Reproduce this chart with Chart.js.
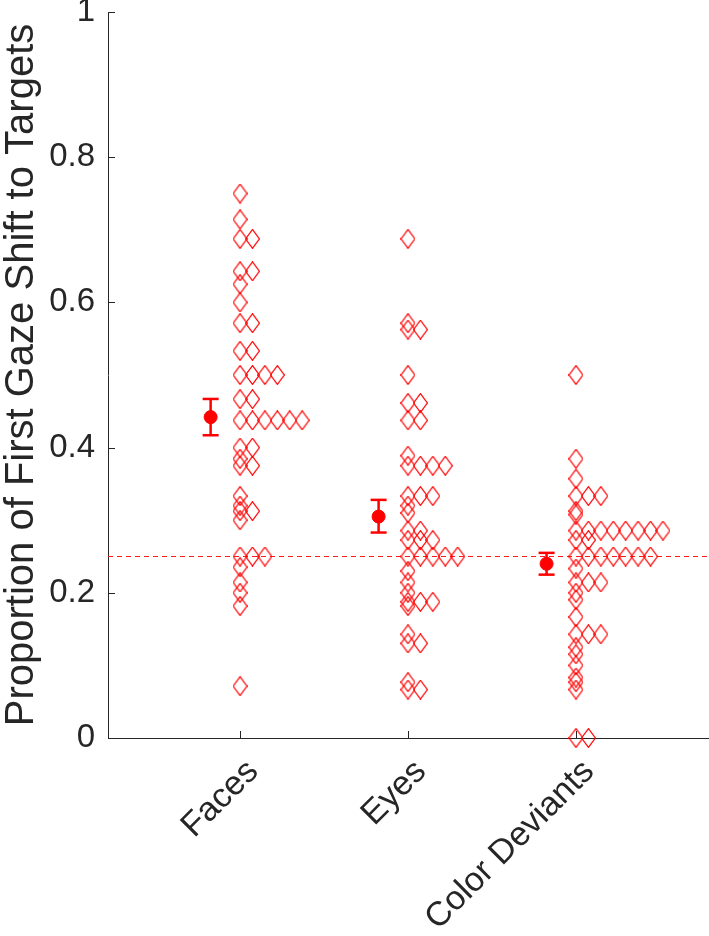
<!DOCTYPE html>
<html>
<head>
<meta charset="utf-8">
<script src="https://cdn.jsdelivr.net/npm/chart.js@4.4.1/dist/chart.umd.min.js"></script>
<style>
    html, body { margin: 0; padding: 0; background: #fff; }
    canvas { display: block; }
</style>
</head>
<body>
<canvas id="gazeChart" width="709" height="936"></canvas>
<script>
        // Data
        const categories = ['Faces', 'Eyes', 'Color Deviants'];
        const facesValues = [
            0.75, 0.7143, 0.6875, 0.6875, 0.6429, 0.6429, 0.625, 0.6, 0.5714, 0.5714,
            0.5333, 0.5333, 0.5, 0.5, 0.5, 0.5, 0.4667, 0.4667,
            0.4375, 0.4375, 0.4375, 0.4375, 0.4375, 0.4375, 0.4, 0.4, 0.3846, 0.375, 0.375,
            0.3333, 0.32, 0.3125, 0.3125, 0.30, 0.25, 0.25, 0.25,
            0.2353, 0.2143, 0.2, 0.1818, 0.0714
        ];
        const eyesValues = [
            0.6875, 0.5714, 0.5625, 0.5625, 0.5, 0.4615, 0.4615, 0.4375, 0.4375,
            0.3889, 0.375, 0.375, 0.375, 0.375, 0.3333, 0.3333, 0.3333, 0.32, 0.31,
            0.2857, 0.2857, 0.2727, 0.2727, 0.2727, 0.25, 0.25, 0.25, 0.25, 0.25,
            0.23, 0.2143, 0.2, 0.1875, 0.1875, 0.1875, 0.1818,
            0.1429, 0.1304, 0.1304, 0.0769, 0.0667, 0.0667
        ];
        const colorDeviantValues = [
            0.5, 0.3846, 0.3571, 0.3333, 0.3333, 0.3333, 0.3125, 0.3077,
            0.2857, 0.2857, 0.2857, 0.2857, 0.2857, 0.2857, 0.2857, 0.2857,
            0.2727, 0.2727, 0.25, 0.25, 0.25, 0.25, 0.25, 0.25, 0.25,
            0.2333, 0.2143, 0.2143, 0.2143, 0.2, 0.1905, 0.1667,
            0.1429, 0.1429, 0.1429, 0.125, 0.1154, 0.1, 0.0833, 0.0769, 0.0667, 0, 0
        ];
        const groupMeans = [0.442, 0.305, 0.240];
        const groupLower = [0.417, 0.283, 0.225];
        const groupUpper = [0.467, 0.328, 0.255];
        const chanceLevel = 0.25;
        const yTicks = [0, 0.2, 0.4, 0.6, 0.8, 1];

        const X_MIN = 0.214;
        const X_MAX = 3.792;
        const SWARM_STEP = 0.074;    // horizontal step between stacked diamonds
        const ERR_OFFSET = -0.175;   // mean marker sits left of the swarm
        const RED = '#ff0000';
        const AXIS = '#262626';
        const FONT = '"Liberation Sans", Arial, Helvetica, sans-serif';

        // Stack identical values side by side
        function swarm(values, center) {
            const seen = {};
            return values.map(v => {
                const col = seen[v] || 0;
                seen[v] = col + 1;
                return { x: center + col * SWARM_STEP, y: v };
            });
        }

        // Tall open diamond marker
        function makeDiamond(w, h) {
            const c = document.createElement('canvas');
            c.width = w;
            c.height = h;
            const g = c.getContext('2d');
            g.strokeStyle = RED;
            g.lineWidth = 1.2;
            g.beginPath();
            g.moveTo(w / 2, 0.6);
            g.lineTo(w - 0.6, h / 2);
            g.lineTo(w / 2, h - 0.6);
            g.lineTo(0.6, h / 2);
            g.closePath();
            g.stroke();
            return c;
        }
        const diamond = makeDiamond(15, 20);

        const swarmSets = [facesValues, eyesValues, colorDeviantValues].map((vals, i) => ({
            label: categories[i],
            data: swarm(vals, i + 1),
            pointStyle: diamond,
            pointRadius: 8,
            clip: false
        }));

        const errorSets = categories.map((c, i) => ({
            label: c + ' SEM',
            data: [
                { x: i + 1 + ERR_OFFSET, y: groupLower[i] },
                { x: i + 1 + ERR_OFFSET, y: groupUpper[i] }
            ],
            showLine: true,
            borderColor: RED,
            borderWidth: 2.5,
            pointStyle: 'line',
            pointRadius: 8,
            pointBorderWidth: 2.5,
            pointBorderColor: RED,
            clip: false
        }));

        const meanSet = {
            label: 'Mean',
            data: groupMeans.map((m, i) => ({ x: i + 1 + ERR_OFFSET, y: m })),
            pointStyle: 'circle',
            pointRadius: 6.5,
            backgroundColor: RED,
            borderColor: RED,
            borderWidth: 1,
            clip: false
        };

        const chanceSet = {
            label: 'Chance',
            data: [{ x: X_MIN, y: chanceLevel }, { x: X_MAX, y: chanceLevel }],
            showLine: true,
            borderColor: '#ff1a1a',
            borderWidth: 1.2,
            borderDash: [5, 4],
            pointRadius: 0,
            clip: false
        };

        // Ticks drawn inside the axes
        const inwardTicks = {
            id: 'inwardTicks',
            beforeDatasetsDraw(chart) {
                const { ctx, chartArea, scales } = chart;
                ctx.save();
                ctx.strokeStyle = AXIS;
                ctx.lineWidth = 1;
                ctx.beginPath();
                scales.x.ticks.forEach(t => {
                    const px = Math.round(scales.x.getPixelForValue(t.value)) + 0.5;
                    ctx.moveTo(px, chartArea.bottom);
                    ctx.lineTo(px, chartArea.bottom - 7);
                });
                scales.y.ticks.forEach(t => {
                    const py = Math.round(scales.y.getPixelForValue(t.value)) + 0.5;
                    ctx.moveTo(chartArea.left, py);
                    ctx.lineTo(chartArea.left + 7, py);
                });
                ctx.stroke();
                ctx.restore();
            }
        };

        const ctx = document.getElementById('gazeChart').getContext('2d');
        new Chart(ctx, {
            type: 'scatter',
            data: {
                datasets: [meanSet, ...errorSets, ...swarmSets, chanceSet]
            },
            options: {
                responsive: false,
                animation: false,
                layout: {
                    autoPadding: false,
                    padding: { top: 12, right: 0, bottom: 0, left: 0 }
                },
                plugins: {
                    legend: { display: false },
                    tooltip: { enabled: false }
                },
                scales: {
                    x: {
                        type: 'linear',
                        min: X_MIN,
                        max: X_MAX,
                        afterBuildTicks: s => { s.ticks = categories.map((c, i) => ({ value: i + 1 })); },
                        afterFit: s => {
                            s.height = 198;
                            s.paddingLeft = 0;
                            s.paddingRight = 0;
                        },
                        grid: { display: false, drawTicks: false },
                        border: { display: true, color: AXIS, width: 1 },
                        ticks: {
                            autoSkip: false,
                            minRotation: 45,
                            maxRotation: 45,
                            padding: 14,
                            labelOffset: 13,
                            color: AXIS,
                            font: { family: FONT, size: 34 },
                            callback: v => categories[v - 1]
                        }
                    },
                    y: {
                        min: 0,
                        max: 1,
                        afterBuildTicks: s => { s.ticks = yTicks.map(v => ({ value: v })); },
                        afterFit: s => {
                            s.width = 108;
                            s.paddingTop = 0;
                            s.paddingBottom = 0;
                        },
                        grid: { display: false, drawTicks: false },
                        border: { display: true, color: AXIS, width: 1 },
                        ticks: {
                            padding: 13,
                            color: AXIS,
                            font: { family: FONT, size: 33 },
                            callback: v => String(v)
                        },
                        title: {
                            display: true,
                            text: 'Proportion of First Gaze Shift to Targets',
                            color: AXIS,
                            font: { family: FONT, size: 40, lineHeight: 1.1 },
                            padding: 0
                        }
                    }
                }
            },
            plugins: [inwardTicks]
        });
</script>
</body>
</html>
